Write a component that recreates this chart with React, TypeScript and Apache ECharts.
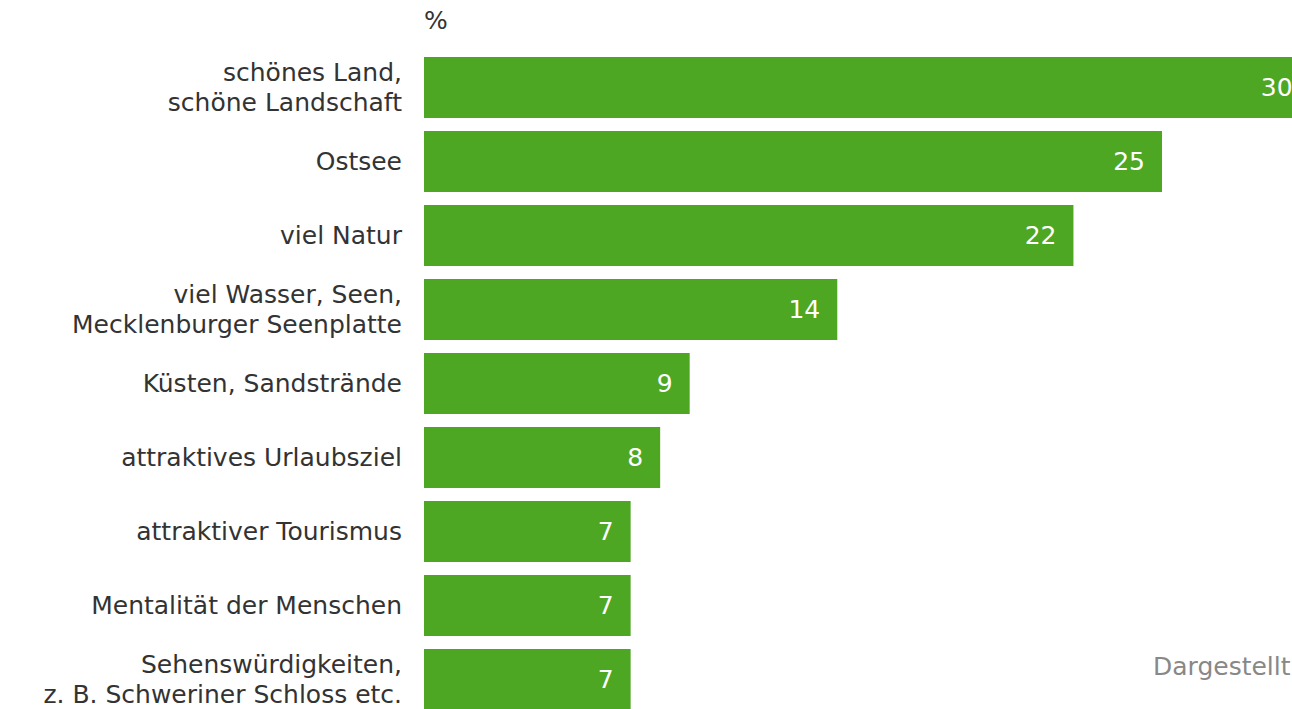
import React, { useEffect, useRef } from "react";
import * as echarts from "echarts";

const categories = [
  "schönes Land,\nschöne Landschaft",
  "Ostsee",
  "viel Natur",
  "viel Wasser, Seen,\nMecklenburger Seenplatte",
  "Küsten, Sandstrände",
  "attraktives Urlaubsziel",
  "attraktiver Tourismus",
  "Mentalität der Menschen",
  "Sehenswürdigkeiten,\nz. B. Schweriner Schloss etc.",
];
const values = [30, 25, 22, 14, 9, 8, 7, 7, 7];
const unitLabel = "%";
const noteText = "Dargestellt";

const FONT = "Verdana, 'DejaVu Sans', sans-serif";

export default function App() {
  const ref = useRef<HTMLDivElement>(null);
  useEffect(() => {
    if (!ref.current) return;
    const chart = echarts.init(ref.current, null, { renderer: "svg" });
    chart.setOption({
      animation: false,
      grid: {
        left: 424,
        right: -17.6,
        top: 50.5,
        bottom: -7.5,
        outerBoundsMode: "none",
        containLabel: false,
      },
      xAxis: {
        type: "value",
        min: 0,
        max: 30,
        show: false,
      },
      yAxis: {
        type: "category",
        data: categories,
        inverse: true,
        axisLine: { show: false },
        axisTick: { show: false },
        splitLine: { show: false },
        axisLabel: {
          fontSize: 25,
          color: "#333333",
          fontFamily: FONT,
          lineHeight: 30,
          margin: 22,
          align: "right",
        },
      },
      series: [
        {
          type: "bar",
          data: values,
          barWidth: 61,
          itemStyle: { color: "#4ea723" },
          label: {
            show: true,
            position: "insideRight",
            distance: 17,
            color: "#ffffff",
            fontSize: 25,
            fontFamily: FONT,
          },
        },
      ],
      graphic: [
        {
          type: "text",
          left: 424,
          top: 8,
          style: { text: unitLabel, fontSize: 25, fill: "#333333", fontFamily: FONT },
        },
        {
          type: "text",
          left: 1153,
          top: 654,
          style: { text: noteText, fontSize: 25, fill: "#888888", fontFamily: FONT },
        },
      ],
    });
    return () => chart.dispose();
  }, []);
  return (
    <div
      ref={ref}
      style={{ position: "absolute", left: 0, top: 0, width: 1292, height: 709, overflow: "hidden" }}
    />
  );
}
